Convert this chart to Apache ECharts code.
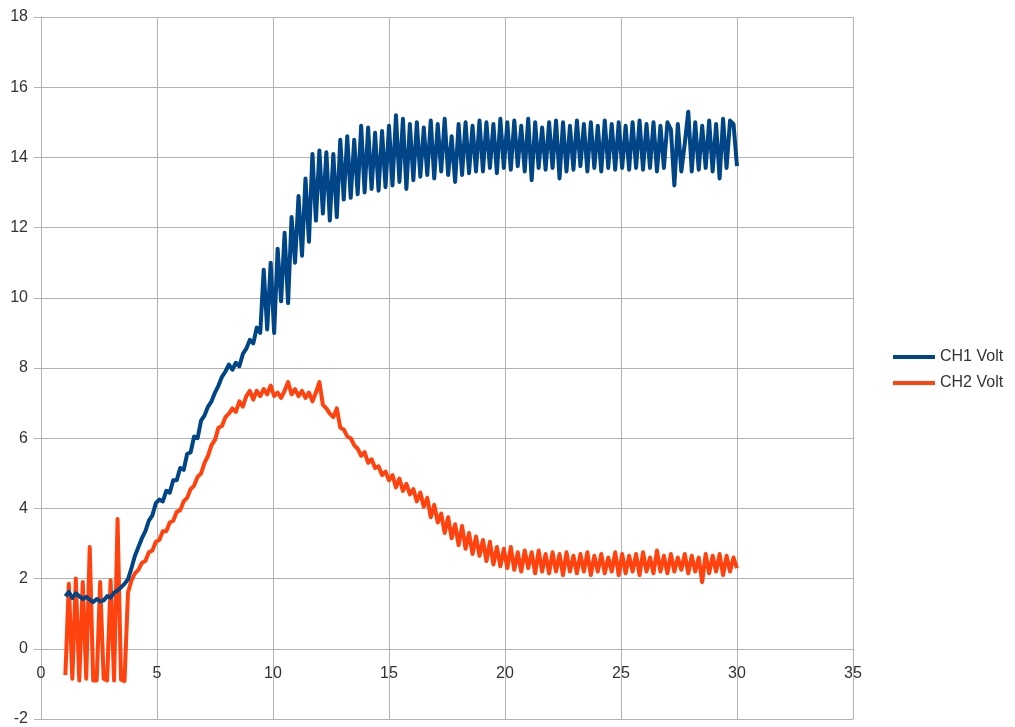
<!DOCTYPE html>
<html>
<head>
<meta charset="utf-8">
<script src="https://cdn.jsdelivr.net/npm/echarts@6/dist/echarts.min.js"></script>
<style>
  html, body { margin: 0; padding: 0; background: #fff; }
  #container { width: 1015px; height: 727px; }
</style>
</head>
<body>
<div id="container"></div>
<script>
// sample times (s), one row = 3 s
var time = [
    1.05,1.2,1.35,1.5,1.65,1.8,1.95,2.1,2.25,2.4,2.55,2.7,2.85,3,3.15,3.3,3.45,3.6,3.75,3.9,
    4.05,4.2,4.35,4.5,4.65,4.8,4.95,5.1,5.25,5.4,5.55,5.7,5.85,6,6.15,6.3,6.45,6.6,6.75,6.9,
    7.05,7.2,7.35,7.5,7.65,7.8,7.95,8.1,8.25,8.4,8.55,8.7,8.85,9,9.15,9.3,9.45,9.6,9.75,9.9,
    10.05,10.2,10.35,10.5,10.65,10.8,10.95,11.1,11.25,11.4,11.55,11.7,11.85,12,12.15,12.3,12.45,12.6,12.75,12.9,
    13.05,13.2,13.35,13.5,13.65,13.8,13.95,14.1,14.25,14.4,14.55,14.7,14.85,15,15.15,15.3,15.45,15.6,15.75,15.9,
    16.05,16.2,16.35,16.5,16.65,16.8,16.95,17.1,17.25,17.4,17.55,17.7,17.85,18,18.15,18.3,18.45,18.6,18.75,18.9,
    19.05,19.2,19.35,19.5,19.65,19.8,19.95,20.1,20.25,20.4,20.55,20.7,20.85,21,21.15,21.3,21.45,21.6,21.75,21.9,
    22.05,22.2,22.35,22.5,22.65,22.8,22.95,23.1,23.25,23.4,23.55,23.7,23.85,24,24.15,24.3,24.45,24.6,24.75,24.9,
    25.05,25.2,25.35,25.5,25.65,25.8,25.95,26.1,26.25,26.4,26.55,26.7,26.85,27,27.15,27.3,27.45,27.6,27.75,27.9,
    28.05,28.2,28.35,28.5,28.65,28.8,28.95,29.1,29.25,29.4,29.55,29.7,29.85,30
];

var ch1 = [
    1.5,1.62,1.45,1.58,1.5,1.42,1.48,1.4,1.33,1.42,1.35,1.38,1.5,1.46,1.6,1.66,1.75,1.85,1.98,2.3,
    2.65,2.9,3.15,3.35,3.65,3.8,4.15,4.25,4.2,4.5,4.45,4.8,4.8,5.15,5.1,5.55,5.6,6.05,6.0,6.5,
    6.65,6.9,7.05,7.3,7.5,7.75,7.9,8.1,7.95,8.15,8.05,8.4,8.55,8.8,8.7,9.15,9.0,10.8,9.1,11.0,
    9.0,11.4,9.9,11.85,9.85,12.3,11.0,12.9,11.2,13.4,11.6,14.1,12.2,14.2,12.4,14.15,12.2,14.1,12.3,14.5,
    12.8,14.6,12.85,14.5,12.95,14.9,13.0,14.85,13.1,14.7,13.05,14.75,13.15,14.9,13.2,15.2,13.3,15.1,13.1,14.95,
    13.35,15.0,13.45,14.85,13.5,15.05,13.4,14.95,13.6,15.1,13.5,14.6,13.3,14.95,13.5,15.0,13.55,14.9,13.6,15.05,
    13.6,15.0,13.7,14.95,13.55,15.1,13.7,15.0,13.65,15.05,13.75,14.9,13.6,15.1,13.35,15.0,13.7,14.85,13.65,15.0,
    13.7,15.05,13.4,15.0,13.6,14.9,13.65,15.05,13.75,14.95,13.6,15.0,13.7,14.9,13.6,15.05,13.7,14.95,13.65,15.0,
    13.7,14.9,13.65,15.0,13.7,15.05,13.65,14.95,13.7,15.0,13.6,14.9,13.7,15.0,14.8,13.2,14.95,13.6,14.4,15.3,
    13.6,15.0,13.65,14.9,13.7,15.05,13.6,14.95,13.4,15.1,13.7,15.05,14.95,13.75
];

var ch2 = [
    -0.75,1.85,-0.85,2.0,-0.9,1.9,-0.85,2.9,-0.9,-0.9,1.9,-0.85,-0.9,1.95,-0.9,3.7,-0.88,-0.92,1.6,1.95,
    2.15,2.25,2.45,2.5,2.75,2.8,3.05,3.1,3.35,3.35,3.6,3.65,3.9,3.95,4.2,4.3,4.55,4.65,4.9,5.0,
    5.3,5.5,5.8,5.95,6.3,6.35,6.6,6.7,6.85,6.75,7.05,6.9,7.2,7.35,7.1,7.35,7.2,7.4,7.25,7.5,
    7.2,7.3,7.15,7.35,7.6,7.25,7.4,7.2,7.35,7.15,7.3,7.05,7.3,7.6,6.95,6.85,6.7,6.6,6.85,6.3,
    6.25,6.05,6.0,5.8,5.7,5.5,5.6,5.3,5.4,5.15,5.2,4.95,5.05,4.8,4.95,4.6,4.85,4.5,4.7,4.4,
    4.55,4.2,4.45,4.05,4.3,3.75,4.1,3.6,3.85,3.3,3.75,3.15,3.55,2.95,3.5,2.85,3.3,2.7,3.2,2.65,
    3.1,2.5,3.05,2.4,2.9,2.35,2.85,2.3,2.9,2.25,2.75,2.2,2.8,2.3,2.75,2.15,2.8,2.2,2.7,2.15,
    2.75,2.2,2.7,2.1,2.75,2.2,2.65,2.15,2.7,2.2,2.75,2.1,2.65,2.2,2.7,2.15,2.6,2.2,2.75,2.1,
    2.7,2.15,2.65,2.2,2.7,2.1,2.75,2.2,2.6,2.15,2.8,2.2,2.65,2.15,2.7,2.2,2.6,2.25,2.7,2.15,
    2.65,2.2,2.6,1.9,2.7,2.15,2.65,2.2,2.7,2.1,2.65,2.2,2.6,2.3
];

var xTicks = [0, 5, 10, 15, 20, 25, 30, 35];
var yTicks = [-2, 0, 2, 4, 6, 8, 10, 12, 14, 16, 18];

var dom = document.getElementById('container');
var myChart = echarts.init(dom, null, { renderer: 'canvas' });

var gridColor = '#b3b3b3';
var textColor = '#333333';
var font = 'Liberation Sans';

var ch1Data = time.map(function (t, i) { return [t, ch1[i]]; });
var ch2Data = time.map(function (t, i) { return [t, ch2[i]]; });

var option = {
    animation: false,
    textStyle: { fontFamily: font },
    grid: {
        left: 41,
        right: 162,
        top: 17,
        bottom: 8,
        containLabel: false,
        outerBoundsMode: 'none'
    },
    legend: {
        data: ['CH1 Volt', 'CH2 Volt'],
        orient: 'vertical',
        left: 893,
        top: 349,
        padding: 0,
        itemGap: 10,
        itemWidth: 42,
        itemHeight: 4,
        icon: 'rect',
        textStyle: { color: textColor, fontSize: 16, fontFamily: font }
    },
    xAxis: {
        type: 'value',
        min: xTicks[0],
        max: xTicks[xTicks.length - 1],
        interval: 5,
        axisLine: { show: true, onZero: false, lineStyle: { color: gridColor } },
        axisTick: { show: false },
        // labels sit just under the y = 0 line, as in the original
        axisLabel: { color: textColor, fontSize: 16, margin: -53 },
        splitLine: { show: true, lineStyle: { color: gridColor, width: 1 } }
    },
    yAxis: {
        type: 'value',
        min: yTicks[0],
        max: yTicks[yTicks.length - 1],
        interval: 2,
        axisLine: { show: true, onZero: false, lineStyle: { color: gridColor } },
        axisTick: { show: true, length: 7, lineStyle: { color: gridColor } },
        axisLabel: { color: textColor, fontSize: 16, margin: 13 },
        splitLine: { show: true, lineStyle: { color: gridColor, width: 1 } }
    },
    series: [
        {
            name: 'CH2 Volt',
            type: 'line',
            data: ch2Data,
            showSymbol: false,
            color: '#ff420e',
            lineStyle: { width: 4, color: '#ff420e', join: 'round' }
        },
        {
            name: 'CH1 Volt',
            type: 'line',
            data: ch1Data,
            showSymbol: false,
            color: '#004586',
            lineStyle: { width: 4, color: '#004586', join: 'round' }
        }
    ]
};

myChart.setOption(option);
window.addEventListener('resize', myChart.resize);
</script>
</body>
</html>
